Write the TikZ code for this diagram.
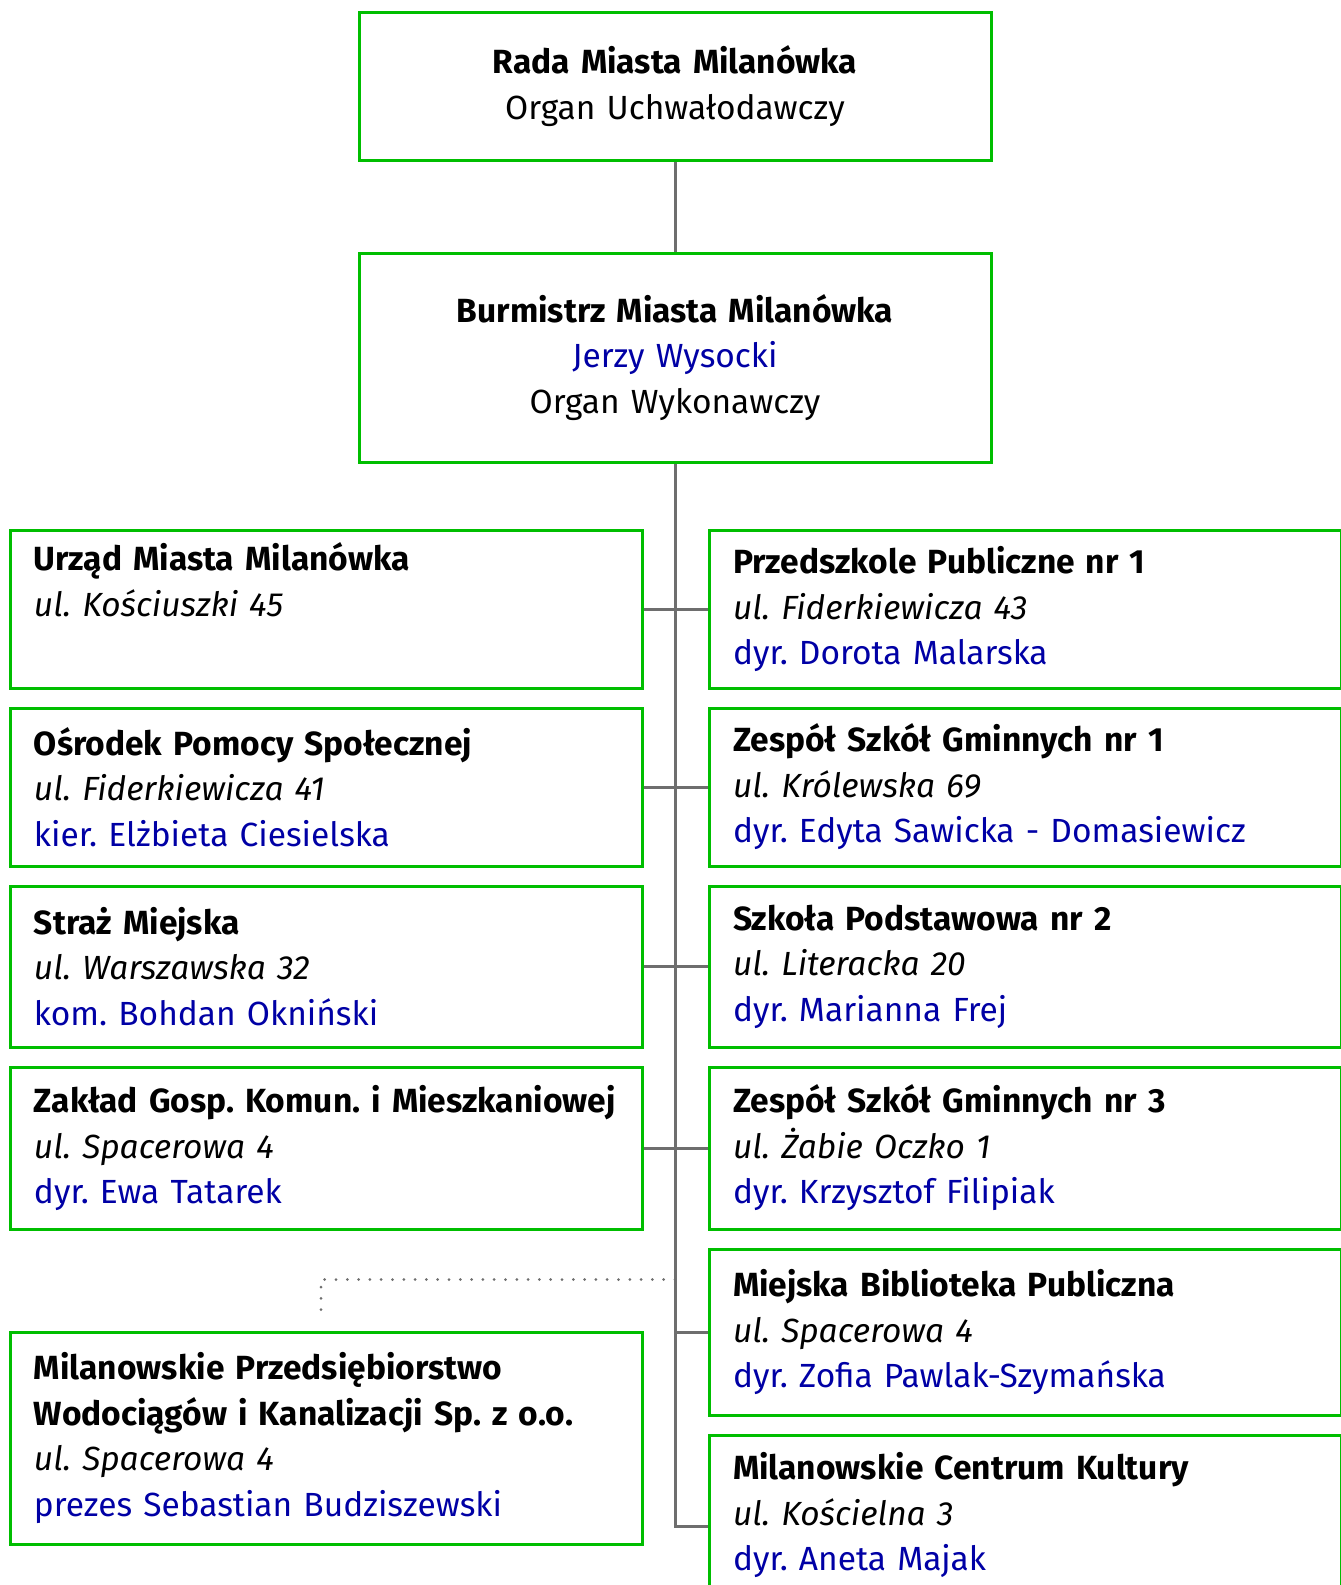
\documentclass[tikz,border=0pt]{standalone}
\usepackage{fontspec}
\setmainfont{Fira Sans}
\usetikzlibrary{positioning}
\definecolor{boxgreen}{RGB}{0,190,0}
\definecolor{nameblue}{RGB}{0,0,165}
\definecolor{linkgray}{RGB}{110,110,110}
\frenchspacing
\tikzset{
    unit/.style={
        rectangle,
        draw=boxgreen,
        line width=3pt,
        text width=584pt,
        inner xsep=24pt,
        inner ysep=0pt,
        minimum height=158pt,
        align=left,
        font=\fontsize{33.5}{45.5}\selectfont
    },
    head/.style={
        unit,
        align=center
    },
    link/.style={
        draw=linkgray,
        line width=3pt
    },
    dots/.style={
        draw=linkgray,
        line width=3pt,
        line cap=round,
        dash pattern=on 0pt off 11.3pt
    },
}
\newcommand{\who}[1]{\textcolor{nameblue}{#1}}

\begin{document}
\begin{tikzpicture}[node distance=17pt]
\useasboundingbox (0pt,0pt) rectangle (1341pt,-1585pt);

% Rada Miasta
\node[head, minimum height=148pt] (rada) at (675pt,-86pt) {
    \textbf{Rada Miasta Milanówka}\\
    Organ Uchwałodawczy
};

% Burmistrz
\node[head, minimum height=209pt, below=90pt of rada] (burm) {
    \textbf{Burmistrz Miasta Milanówka}\\
    \who{Jerzy Wysocki}\\
    Organ Wykonawczy
};

% Left column
\node[unit] (urzad) at (326pt,-609pt) {
    \textbf{Urząd Miasta Milanówka}\\
    \textit{ul. Kościuszki 45}\\
    \strut
};

\node[unit, below=of urzad] (ops) {
    \textbf{Ośrodek Pomocy Społecznej}\\
    \textit{ul. Fiderkiewicza 41}\\
    \who{kier. Elżbieta Ciesielska}
};

\node[unit, minimum height=161pt, below=of ops] (straz) {
    \textbf{Straż Miejska}\\
    \textit{ul. Warszawska 32}\\
    \who{kom. Bohdan Okniński}
};

\node[unit, minimum height=162pt, below=of straz] (zgkim) {
    \textbf{Zakład Gosp. Komun. i Mieszkaniowej}\\
    \textit{ul. Spacerowa 4}\\
    \who{dyr. Ewa Tatarek}
};

\node[unit, minimum height=212pt, below=100pt of zgkim] (mpwik) {
    \textbf{Milanowskie Przedsiębiorstwo}\\
    \textbf{Wodociągów i Kanalizacji Sp. z o.o.}\\
    \textit{ul. Spacerowa 4}\\
    \who{prezes Sebastian Budziszewski}
};

% Right column
\node[unit, right=64pt of urzad] (przedszkole) {
    \textbf{Przedszkole Publiczne nr 1}\\
    \textit{ul. Fiderkiewicza 43}\\
    \who{dyr. Dorota Malarska}
};

\node[unit, right=64pt of ops] (zsg1) {
    \textbf{Zespół Szkół Gminnych nr 1}\\
    \textit{ul. Królewska 69}\\
    \who{dyr. Edyta Sawicka - Domasiewicz}
};

\node[unit, minimum height=161pt, right=64pt of straz] (sp2) {
    \textbf{Szkoła Podstawowa nr 2}\\
    \textit{ul. Literacka 20}\\
    \who{dyr. Marianna Frej}
};

\node[unit, minimum height=162pt, right=64pt of zgkim] (zsg3) {
    \textbf{Zespół Szkół Gminnych nr 3}\\
    \textit{ul. Żabie Oczko 1}\\
    \who{dyr. Krzysztof Filipiak}
};

\node[unit, minimum height=166pt, below=of zsg3] (biblioteka) {
    \textbf{Miejska Biblioteka Publiczna}\\
    \textit{ul. Spacerowa 4}\\
    \who{dyr. Zofia Pawlak-Szymańska}
};

\node[unit, minimum height=160pt, below=of biblioteka] (kultura) {
    \textbf{Milanowskie Centrum Kultury}\\
    \textit{ul. Kościelna 3}\\
    \who{dyr. Aneta Majak}
};

% Connectors
\coordinate (trunkend) at ([yshift=-11pt]kultura.west);
\draw[link] (rada) -- (burm);
\draw[link] (burm.south) |- (trunkend);
\draw[link] (urzad) -- (przedszkole);
\draw[link] (ops) -- (zsg1);
\draw[link] (straz) -- (sp2);
\draw[link] (zgkim) -- (zsg3);
\draw[link] (burm.south |- biblioteka.west) -- (biblioteka.west);

% dotted link to the water company
\coordinate[above=51pt of mpwik] (mpwtop);
\draw[dots] (burm.south |- mpwtop) -| ([xshift=-5pt, yshift=10pt]mpwik.north);

\end{tikzpicture}
\end{document}
